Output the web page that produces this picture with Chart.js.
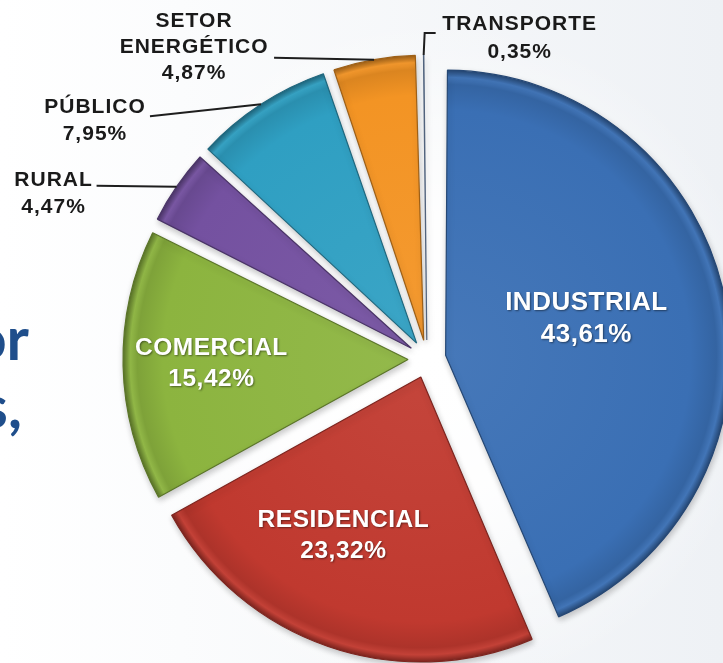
<!DOCTYPE html>
<html>
<head>
<meta charset="utf-8">
<script src="https://cdn.jsdelivr.net/npm/chart.js@4.4.1/dist/chart.umd.min.js"></script>
<style>
    html, body { margin: 0; padding: 0; }
    body {
        width: 723px; height: 663px; overflow: hidden; position: relative;
        background:
            radial-gradient(circle at 427px 357px, #ffffff 0px, rgba(255,255,255,0.9) 140px, rgba(255,255,255,0) 340px),
            linear-gradient(90deg, #ffffff 0%, #fbfcfd 25%, #eef1f5 100%);
    }
    #pieChart { position: absolute; left: 0; top: 0; }
    .slide {
        position: absolute; right: 694px;
        font-family: Lato, "Open Sans", sans-serif; font-weight: 700;
        font-size: 60px; line-height: 1; color: #1f4e8b; white-space: nowrap;
    }
</style>
</head>
<body>
<div class="slide" style="top: 307px;">or</div>
<div class="slide" style="top: 375px; right: 701px;">s,</div>
<canvas id="pieChart" width="723" height="663"></canvas>
<script>
// ==========================
// CONSUMO POR SETOR
// ==========================

const categories = ["INDUSTRIAL", "RESIDENCIAL", "COMERCIAL", "RURAL", "PÚBLICO", ["SETOR", "ENERGÉTICO"], "TRANSPORTE"];
const shares = [43.61, 23.32, 15.42, 4.47, 7.95, 4.87, 0.35];
const sliceColors = ["#3a6fb4", "#c0392f", "#8cb43f", "#7451a0", "#2f9fc2", "#f39424", "#7d98c0"];

const RADIUS = 285;
const EXPLODE = 19;

// rótulos dentro das fatias: distância (fração do raio), giro em graus, tamanho da fonte
const insideLabels = {
    0: { dist: 0.51, turn: -3, size: 26 },
    1: { dist: 0.62, turn: 7, size: 24.5 },
    2: { dist: 0.69, turn: 0, size: 24.5 }
};

// rótulos externos: linha de chamada e texto relativos à borda da fatia
const outsideLabels = {
    3: { line: [[-80, -1]], text: [-123, -6], gap: 27 },
    4: { line: [[-111, 12]], text: [-166, 3], gap: 27 },
    5: { line: [[-100, -2]], text: [-180, -38], gap: 26 },
    6: { line: [[1, -22], [12, -22]], text: [96, -31], gap: 28 }
};

function shade(hex, amt) {
    const n = parseInt(hex.slice(1), 16);
    let r = n >> 16, g = (n >> 8) & 255, b = n & 255;
    const t = amt < 0 ? 0 : 255;
    const p = Math.abs(amt);
    r = Math.round(r + (t - r) * p);
    g = Math.round(g + (t - g) * p);
    b = Math.round(b + (t - b) * p);
    return "rgb(" + r + "," + g + "," + b + ")";
}

function sliceFill(context) {
    const chart = context.chart;
    const area = chart.chartArea;
    const base = sliceColors[context.dataIndex];
    if (!area) return base;
    const cx = (area.left + area.right) / 2;
    const cy = (area.top + area.bottom) / 2;
    const g = chart.ctx.createRadialGradient(cx, cy, 0, cx, cy, RADIUS);
    g.addColorStop(0, shade(base, 0.06));
    g.addColorStop(0.86, base);
    g.addColorStop(0.95, shade(base, -0.1));
    g.addColorStop(0.975, shade(base, 0.04));
    g.addColorStop(1, shade(base, -0.35));
    return g;
}

function formatShare(v) {
    return v.toFixed(2).replace(".", ",") + "%";
}

// mantém o mesmo raio para todas as fatias deslocadas
const evenRadius = {
    id: "evenRadius",
    afterDatasetUpdate(chart, args) {
        const meta = chart.getDatasetMeta(args.index);
        meta.data.forEach(el => {
            const circ = el.endAngle - el.startAngle;
            const fix = 1 - Math.sin(Math.min(Math.PI, circ));
            el.outerRadius = RADIUS - EXPLODE * fix;
        });
    }
};

const sliceShadow = {
    id: "sliceShadow",
    beforeDatasetsDraw(chart) {
        const ctx = chart.ctx;
        ctx.save();
        ctx.shadowColor = "rgba(0,0,0,0.22)";
        ctx.shadowBlur = 6;
        ctx.shadowOffsetX = 1;
        ctx.shadowOffsetY = 3;
    },
    afterDatasetsDraw(chart) {
        chart.ctx.restore();
    }
};

const sliceLabels = {
    id: "sliceLabels",
    afterDraw(chart) {
        const ctx = chart.ctx;
        const meta = chart.getDatasetMeta(0);
        meta.data.forEach((el, i) => {
            const mid = (el.startAngle + el.endAngle) / 2;
            const ax = el.x + Math.cos(mid) * EXPLODE;
            const ay = el.y + Math.sin(mid) * EXPLODE;
            const name = [].concat(chart.data.labels[i]);
            const lines = name.concat([formatShare(shares[i])]);

            ctx.save();
            ctx.textAlign = "center";
            ctx.textBaseline = "middle";

            if (insideLabels[i]) {
                const cfg = insideLabels[i];
                const a = mid + cfg.turn * Math.PI / 180;
                const tx = ax + Math.cos(a) * RADIUS * cfg.dist;
                const ty = ay + Math.sin(a) * RADIUS * cfg.dist;
                ctx.font = "bold " + cfg.size + "px 'Liberation Sans', Arial, sans-serif";
                ctx.letterSpacing = "0.5px";
                ctx.fillStyle = "#ffffff";
                ctx.shadowColor = "rgba(0,0,0,0.45)";
                ctx.shadowBlur = 2;
                ctx.shadowOffsetX = 1;
                ctx.shadowOffsetY = 1;
                const step = cfg.size * 1.25;
                lines.forEach((s, k) => {
                    ctx.fillText(s, tx, ty + (k - (lines.length - 1) / 2) * step);
                });
            }

            if (outsideLabels[i]) {
                const cfg = outsideLabels[i];
                const ex = ax + Math.cos(mid) * RADIUS;
                const ey = ay + Math.sin(mid) * RADIUS;
                ctx.strokeStyle = "#1e1e1e";
                ctx.lineWidth = 2;
                ctx.beginPath();
                ctx.moveTo(ex, ey);
                cfg.line.forEach(p => ctx.lineTo(ex + p[0], ey + p[1]));
                ctx.stroke();

                ctx.font = "bold 21px 'Liberation Sans', Arial, sans-serif";
                ctx.letterSpacing = "1px";
                ctx.fillStyle = "#1a1a1a";
                lines.forEach((s, k) => {
                    ctx.fillText(s, ex + cfg.text[0], ey + cfg.text[1] + k * cfg.gap);
                });
            }
            ctx.restore();
        });
    }
};

const ctx = document.querySelector("#pieChart").getContext("2d");

new Chart(ctx, {
    type: "pie",
    data: {
        labels: categories,
        datasets: [{
            data: shares,
            backgroundColor: sliceFill,
            borderColor: sliceColors.map(c => shade(c, -0.35)),
            borderWidth: 1.2,
            offset: EXPLODE * 4
        }]
    },
    options: {
        responsive: false,
        animation: false,
        radius: RADIUS,
        events: [],
        layout: {
            padding: { left: 131, top: 55, right: 0, bottom: 0 }
        },
        plugins: {
            legend: { display: false },
            tooltip: { enabled: false }
        }
    },
    plugins: [evenRadius, sliceShadow, sliceLabels]
});
</script>
</body>
</html>
